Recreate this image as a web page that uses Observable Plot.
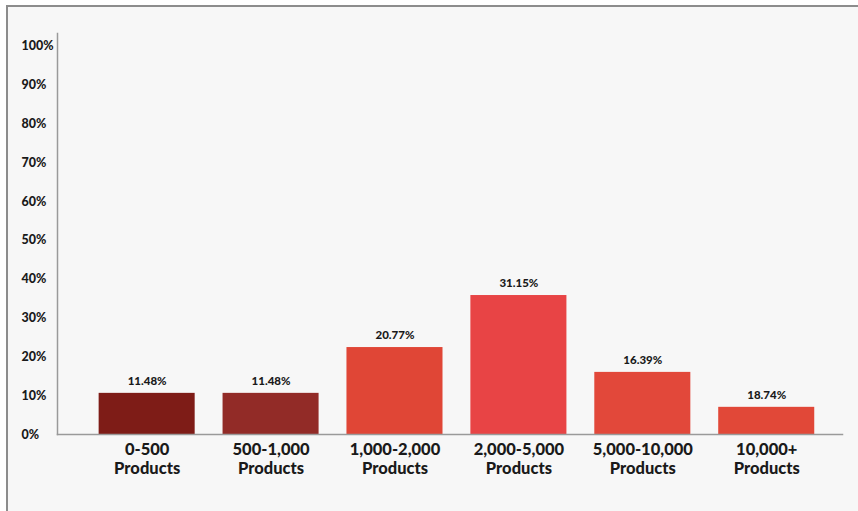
<!DOCTYPE html>
<html>
<head>
<meta charset="utf-8">
<script src="https://cdn.jsdelivr.net/npm/d3@7"></script>
<script src="https://cdn.jsdelivr.net/npm/@observablehq/plot@0.6"></script>
<style>
  html, body { margin: 0; padding: 0; background: #ffffff; width: 858px; height: 511px; overflow: hidden; }
  #frame { position: absolute; left: 6px; top: 5px; width: 900px; height: 560px; background: #f7f7f7;
           border-top: 2px solid #8c8c8c; border-left: 2px solid #8c8c8c; }
  #chart { position: absolute; left: 0; top: 0; }
</style>
</head>
<body>
<div id="frame"></div>
<div id="chart"></div>
<script>
const categories = ["0-500 Products", "500-1,000 Products", "1,000-2,000 Products", "2,000-5,000 Products", "5,000-10,000 Products", "10,000+ Products"];
const xLabels = ["0-500\nProducts", "500-1,000\nProducts", "1,000-2,000\nProducts", "2,000-5,000\nProducts", "5,000-10,000\nProducts", "10,000+\nProducts"];
const barValues = [10.6, 10.6, 22.4, 35.8, 16.0, 7.0];
const valueLabels = ["11.48%", "11.48%", "20.77%", "31.15%", "16.39%", "18.74%"];
const barColors = ["#7e1c17", "#922b27", "#e04636", "#e84445", "#e2483a", "#e14838"];
const yTicks = [0, 10, 20, 30, 40, 50, 60, 70, 80, 90, 100];
const yTickLabels = ["0%", "10%", "20%", "30%", "40%", "50%", "60%", "70%", "80%", "90%", "100%"];

const data = categories.map((c, i) => ({cat: c, value: barValues[i], label: valueLabels[i], xlabel: xLabels[i]}));

const chart = Plot.plot({
  width: 858,
  height: 511,
  marginLeft: 57,
  marginRight: 16,
  marginTop: 33,
  marginBottom: 77,
  style: {background: "transparent", fontFamily: "Lato, sans-serif", color: "#1a1a1a", overflow: "visible"},
  x: {domain: categories, paddingInner: 0.225, paddingOuter: 0.28, align: 0.6, round: false, axis: null},
  y: {domain: [0, 103.3], axis: null},
  color: {domain: categories, range: barColors},
  marks: [
    Plot.barY(data, {x: "cat", y: "value", fill: "cat"}),
    Plot.frame({anchor: "bottom", stroke: "#9a9a9a", strokeWidth: 1.5}),
    Plot.frame({anchor: "left", stroke: "#9a9a9a", strokeWidth: 1.5}),
    Plot.text(data, {x: "cat", y: "value", text: "label", dy: -12, fontSize: 11.5, fontWeight: 900, fill: "#1a1a1a"}),
    Plot.text(data, {x: "cat", text: "xlabel", frameAnchor: "bottom", lineAnchor: "top", dy: 6, fontSize: 16.5, fontWeight: 900, lineHeight: 1.2, fill: "#1a1a1a"}),
    Plot.text(yTicks, {y: d => d, text: (d, i) => yTickLabels[i], frameAnchor: "left", textAnchor: "start", dx: -36, fontSize: 12.5, fontWeight: 900, fill: "#1a1a1a"})
  ]
});
document.getElementById("chart").appendChild(chart);
</script>
</body>
</html>
